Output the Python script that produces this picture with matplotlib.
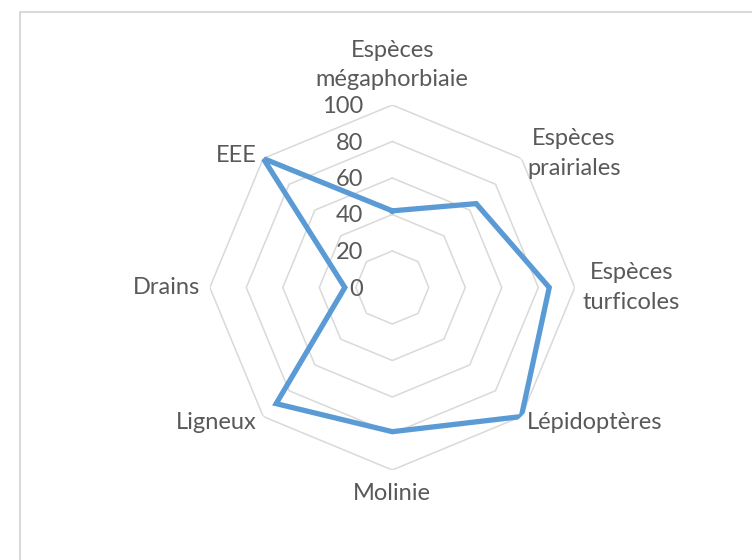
import numpy as np
import matplotlib
matplotlib.use("Agg")
import matplotlib.pyplot as plt
from matplotlib.patches import Rectangle

categories = [
    "Espèces\nmégaphorbiaie",
    "Espèces\nprairiales",
    "Espèces\nturficoles",
    "Lépidoptères",
    "Molinie",
    "Ligneux",
    "Drains",
    "EEE",
]
values = [42, 65, 86, 100, 79, 90, 26, 100]
ring_levels = [20, 40, 60, 80, 100]
tick_labels = ["0", "20", "40", "60", "80", "100"]

LINE = "#5B9BD5"
GRID = "#D9D9D9"
TEXT = "#595959"
FONT = "Lato"
FS = 17

# label placement: (ha, dx, dy) in pixels from the 100 vertex
label_pos = [
    ("center", 0, 40),
    ("left", 6, 5),
    ("left", 8, 0),
    ("left", 6, -6),
    ("center", 0, -24),
    ("right", -7, -6),
    ("right", -10, 0),
    ("right", -7, 3),
]

W, H = 752, 560
fig = plt.figure(figsize=(W / 100, H / 100), dpi=100)

# chart frame (cropped on the right and bottom)
fig.patches.append(Rectangle((19.5 / W, -0.1), 1.2, 1.1 - 12 / H,
                             transform=fig.transFigure, fill=False,
                             edgecolor=GRID, linewidth=1.5))

cx, cy, R = 392.3, H - 287.5, 182.5
ax = fig.add_axes([(cx - R) / W, (cy - R) / H, 2 * R / W, 2 * R / H],
                  projection="polar")
ax.set_theta_offset(np.pi / 2)
ax.set_theta_direction(-1)
ax.set_ylim(0, 100)
ax.grid(False)
ax.spines["polar"].set_visible(False)
ax.set_xticks([])
ax.set_yticks([])
ax.patch.set_alpha(0)

n = len(categories)
angles = np.arange(n) * 2 * np.pi / n
closed = np.append(angles, angles[0])

for r in ring_levels:
    ax.plot(closed, [r] * (n + 1), color=GRID, lw=1.1, zorder=1)

vals = values + values[:1]
ax.plot(closed, vals, color=LINE, lw=3.8, solid_joinstyle="miter", zorder=3)

for lab, r in zip(tick_labels, [0] + ring_levels):
    ax.annotate(lab, xy=(0, r), xytext=(-29, -1.5), textcoords="offset pixels",
                ha="right", va="center", color=TEXT, fontsize=FS,
                family=FONT, annotation_clip=False)

for ang, lab, (ha, dx, dy) in zip(angles, categories, label_pos):
    ax.annotate(lab, xy=(ang, 100), xytext=(dx, dy), textcoords="offset pixels",
                ha=ha, va="center", multialignment="center", linespacing=1.5,
                color=TEXT, fontsize=FS, family=FONT, annotation_clip=False)

fig.savefig("out.png", dpi=100, facecolor="white")
